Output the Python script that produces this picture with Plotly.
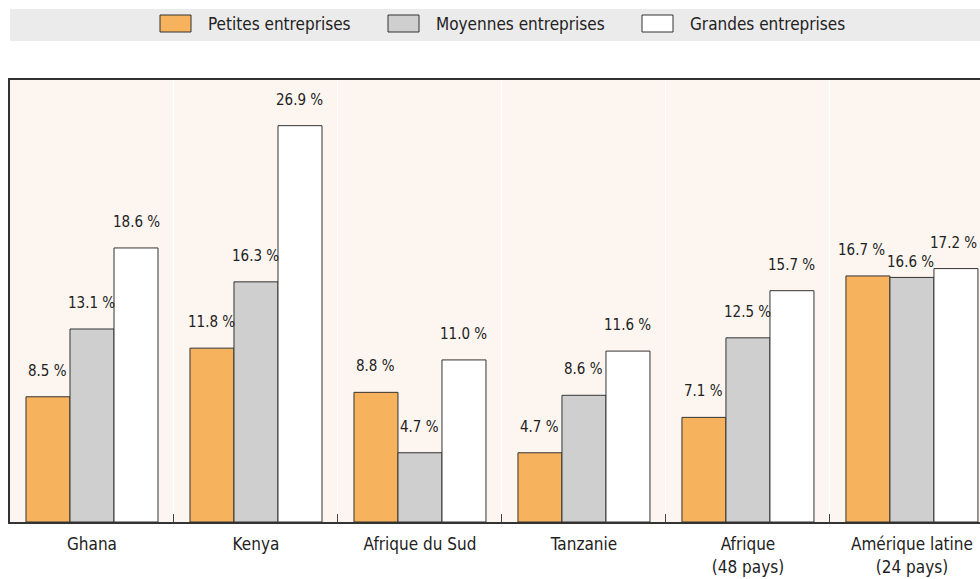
import plotly.graph_objects as go

categories = ["Ghana", "Kenya", "Afrique du Sud", "Tanzanie", "Afrique<br>(48 pays)", "Amérique latine<br>(24 pays)"]
series_names = ["Petites entreprises", "Moyennes entreprises", "Grandes entreprises"]
petites = [8.5, 11.8, 8.8, 4.7, 7.1, 16.7]
moyennes = [13.1, 16.3, 4.7, 8.6, 12.5, 16.6]
grandes = [18.6, 26.9, 11.0, 11.6, 15.7, 17.2]

colors = ["#F7B25D", "#CFCFCF", "#FFFFFF"]
FONT = "Liberation Sans Narrow, DejaVu Sans Condensed, Roboto, sans-serif"

W, H = 980, 579
L, R, T, B = 10, 980, 80, 522
BARGAP = 0.195


def px_x(p):
    return (p - L) / (R - L)


def px_y(p):
    return (B - p) / (B - T)


fig = go.Figure()
all_series = [petites, moyennes, grandes]
for name, vals, col in zip(series_names, all_series, colors):
    fig.add_trace(go.Bar(
        x=categories, y=vals, name=name,
        marker=dict(color=col, line=dict(color="#333333", width=1)),
        showlegend=False,
        hoverinfo="x+y+name",
    ))

# value labels above bars
annotations = []
bw = (1 - BARGAP) / 3
# small label nudges for the crowded last group (pixels)
nudge = {(5, 0): (-6, 0), (5, 1): (-1, -11), (5, 2): (-2, 0)}
for s, vals in enumerate(all_series):
    for i, v in enumerate(vals):
        dx, dy = nudge.get((i, s), (0, 0))
        annotations.append(dict(
            x=i + (s - 1) * bw, y=v, xref="x", yref="y",
            text=f"{v:.1f} %", showarrow=False,
            xanchor="center", yanchor="middle",
            yshift=26 + dy, xshift=dx,
            font=dict(family=FONT, size=15, color="#222222"),
        ))

shapes = [
    dict(type="rect", xref="paper", yref="paper", x0=0, x1=1,
         y0=px_y(41), y1=px_y(9), fillcolor="#EBEBEB", line=dict(width=0), layer="below"),
]
legend_x = [160, 388, 642]
for lx, name, col in zip(legend_x, series_names, colors):
    shapes.append(dict(type="rect", xref="paper", yref="paper",
                       x0=px_x(lx), x1=px_x(lx + 31), y0=px_y(32), y1=px_y(15),
                       fillcolor=col, line=dict(color="#333333", width=1)))
    annotations.append(dict(xref="paper", yref="paper", x=px_x(lx + 46), y=px_y(24),
                            xanchor="left", yanchor="middle", text=name, showarrow=False,
                            font=dict(family=FONT, size=17, color="#222222")))

fig.update_layout(
    width=W, height=H,
    margin=dict(l=L, r=W - R, t=T, b=H - B),
    paper_bgcolor="white",
    plot_bgcolor="#FDF6F0",
    barmode="group",
    bargap=BARGAP,
    bargroupgap=0,
    font=dict(family=FONT, size=16, color="#222222"),
    shapes=shapes,
    annotations=annotations,
    xaxis=dict(
        type="category",
        range=[-0.5, 5.415],
        tickson="boundaries",
        ticks="inside", ticklen=8, tickcolor="#444444", tickwidth=1,
        ticklabelstandoff=6,
        showgrid=True, gridcolor="white", gridwidth=1,
        showline=True, linecolor="#333333", linewidth=2, mirror=True,
        tickfont=dict(family=FONT, size=17, color="#222222"),
    ),
    yaxis=dict(
        range=[0, 30], showticklabels=False, showgrid=False, zeroline=False,
        showline=True, linecolor="#333333", linewidth=2, ticks="",
    ),
)

fig.write_html(
    "out.html",
    config={"displayModeBar": False},
    post_script="document.body.style.margin='0';document.body.style.overflow='hidden';",
)
